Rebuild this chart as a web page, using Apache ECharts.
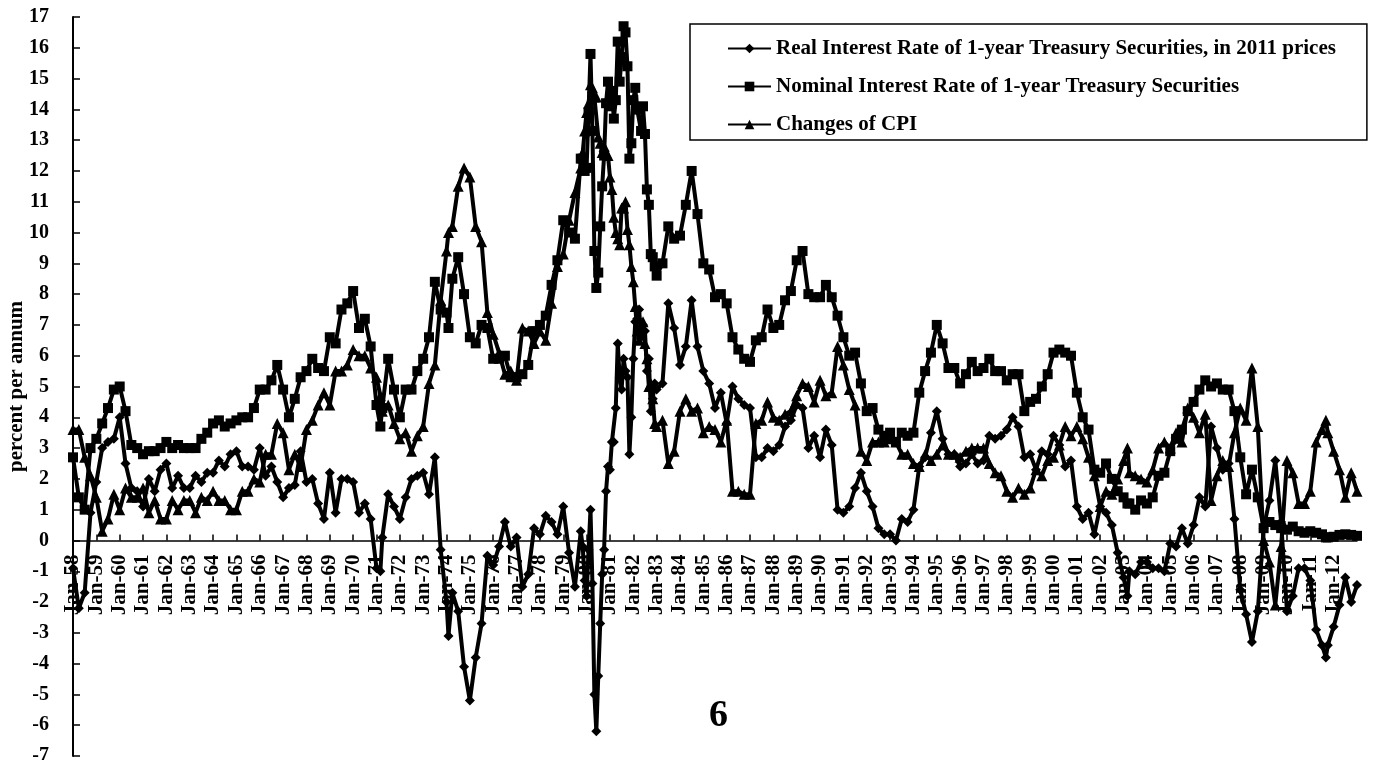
<!DOCTYPE html>
<html>
<head>
<meta charset="utf-8">
<script src="https://cdn.jsdelivr.net/npm/echarts@6/dist/echarts.min.js"></script>
<style>
  html, body { margin: 0; background: #fff; }
  #chart { width: 1373px; height: 760px; }
</style>
</head>
<body>
<div id="chart"></div>
<script>
// sample dates (quarterly, with extra months where the series swing hard)
const dates = [
  '1958-01','1958-04','1958-07','1958-10',
  '1959-01','1959-04','1959-07','1959-10',
  '1960-01','1960-04','1960-07','1960-10',
  '1961-01','1961-04','1961-07','1961-10',
  '1962-01','1962-04','1962-07','1962-10',
  '1963-01','1963-04','1963-07','1963-10',
  '1964-01','1964-04','1964-07','1964-10',
  '1965-01','1965-04','1965-07','1965-10',
  '1966-01','1966-04','1966-07','1966-10',
  '1967-01','1967-04','1967-07','1967-10',
  '1968-01','1968-04','1968-07','1968-10',
  '1969-01','1969-04','1969-07','1969-10',
  '1970-01','1970-04','1970-07','1970-10',
  '1971-01','1971-03','1971-04','1971-07','1971-10',
  '1972-01','1972-04','1972-07','1972-10',
  '1973-01','1973-04','1973-07','1973-10',
  '1974-01','1974-02','1974-04','1974-07','1974-10',
  '1975-01','1975-04','1975-07','1975-10',
  '1976-01','1976-04','1976-07','1976-10',
  '1977-01','1977-04','1977-07','1977-10',
  '1978-01','1978-04','1978-07','1978-10',
  '1979-01','1979-04','1979-07','1979-10','1979-11','1979-12',
  '1980-01','1980-02','1980-03','1980-04','1980-05','1980-06','1980-07','1980-08','1980-09','1980-10','1980-11','1980-12',
  '1981-01','1981-02','1981-03','1981-04','1981-05','1981-06','1981-07','1981-08','1981-09','1981-10','1981-11','1981-12',
  '1982-01','1982-02','1982-03','1982-04','1982-05','1982-06','1982-07','1982-08','1982-09','1982-10','1982-11','1982-12',
  '1983-01','1983-04','1983-07','1983-10',
  '1984-01','1984-04','1984-07','1984-10',
  '1985-01','1985-04','1985-07','1985-10',
  '1986-01','1986-04','1986-07','1986-10',
  '1987-01','1987-04','1987-07','1987-10',
  '1988-01','1988-04','1988-07','1988-10',
  '1989-01','1989-04','1989-07','1989-10',
  '1990-01','1990-04','1990-07','1990-10',
  '1991-01','1991-04','1991-07','1991-10',
  '1992-01','1992-04','1992-07','1992-10',
  '1993-01','1993-04','1993-07','1993-10',
  '1994-01','1994-04','1994-07','1994-10',
  '1995-01','1995-04','1995-07','1995-10',
  '1996-01','1996-04','1996-07','1996-10',
  '1997-01','1997-04','1997-07','1997-10',
  '1998-01','1998-04','1998-07','1998-10',
  '1999-01','1999-04','1999-07','1999-10',
  '2000-01','2000-04','2000-07','2000-10',
  '2001-01','2001-04','2001-07','2001-10',
  '2002-01','2002-04','2002-07','2002-10',
  '2003-01','2003-03','2003-04','2003-07','2003-10',
  '2004-01','2004-04','2004-07','2004-10',
  '2005-01','2005-04','2005-07','2005-10',
  '2006-01','2006-04','2006-07','2006-10',
  '2007-01','2007-04','2007-07','2007-10',
  '2008-01','2008-04','2008-07','2008-10',
  '2009-01','2009-04','2009-07','2009-10',
  '2010-01','2010-04','2010-07','2010-10',
  '2011-01','2011-04','2011-07','2011-09','2011-10',
  '2012-01','2012-04','2012-07','2012-10',
  '2013-01'
];

// nominal interest rate of 1-year treasury securities
const nominal = [
  2.7, 1.4, 1.0, 3.0,
  3.3, 3.8, 4.3, 4.9,
  5.0, 4.2, 3.1, 3.0,
  2.8, 2.9, 2.9, 3.0,
  3.2, 3.0, 3.1, 3.0,
  3.0, 3.0, 3.3, 3.5,
  3.8, 3.9, 3.7, 3.8,
  3.9, 4.0, 4.0, 4.3,
  4.9, 4.9, 5.2, 5.7,
  4.9, 4.0, 4.6, 5.3,
  5.5, 5.9, 5.6, 5.5,
  6.6, 6.4, 7.5, 7.7,
  8.1, 6.9, 7.2, 6.3,
  4.4, 3.7, 4.3, 5.9, 4.9,
  4.0, 4.9, 4.9, 5.5,
  5.9, 6.6, 8.4, 7.5,
  7.4, 6.9, 8.5, 9.2, 8.0,
  6.6, 6.4, 7.0, 6.9,
  5.9, 5.9, 6.0, 5.3,
  5.3, 5.4, 5.7, 6.8,
  7.0, 7.3, 8.3, 9.1,
  10.4, 10.0, 9.8, 12.4, 12.4, 12.0,
  12.1, 13.9, 15.8, 13.3, 9.4, 8.2, 8.7, 10.2, 11.5, 12.5, 14.2, 14.9,
  14.1, 14.6, 13.7, 14.3, 16.2, 14.9, 15.7, 16.7, 16.5, 15.4, 12.4, 12.9,
  14.3, 14.7, 14.0, 14.0, 13.3, 14.1, 13.2, 11.4, 10.9, 9.3, 9.2, 8.9,
  8.6, 9.0, 10.2, 9.8,
  9.9, 10.9, 12.0, 10.6,
  9.0, 8.8, 7.9, 8.0,
  7.7, 6.6, 6.2, 5.9,
  5.8, 6.5, 6.6, 7.5,
  6.9, 7.0, 7.8, 8.1,
  9.1, 9.4, 8.0, 7.9,
  7.9, 8.3, 7.9, 7.3,
  6.6, 6.0, 6.1, 5.1,
  4.2, 4.3, 3.6, 3.4,
  3.5, 3.2, 3.5, 3.4,
  3.5, 4.8, 5.5, 6.1,
  7.0, 6.4, 5.6, 5.6,
  5.1, 5.4, 5.8, 5.5,
  5.6, 5.9, 5.5, 5.5,
  5.2, 5.4, 5.4, 4.2,
  4.5, 4.6, 5.0, 5.4,
  6.1, 6.2, 6.1, 6.0,
  4.8, 4.0, 3.6, 2.3,
  2.2, 2.5, 2.0, 1.6,
  1.4, 1.2, 1.2, 1.0, 1.3,
  1.2, 1.4, 2.1, 2.2,
  2.9, 3.3, 3.6, 4.2,
  4.5, 4.9, 5.2, 5.0,
  5.1, 4.9, 4.9, 4.2,
  2.7, 1.5, 2.3, 1.4,
  0.4, 0.6, 0.5, 0.4,
  0.35, 0.45, 0.3, 0.25,
  0.3, 0.25, 0.2, 0.1, 0.1,
  0.12, 0.18, 0.2, 0.18,
  0.15
];

// changes of CPI (year on year)
const cpi = [
  3.6, 3.6, 2.7, 2.1,
  1.4, 0.3, 0.7, 1.5,
  1.0, 1.7, 1.4, 1.4,
  1.7, 0.9, 1.3, 0.7,
  0.7, 1.3, 1.0, 1.3,
  1.3, 0.9, 1.4, 1.3,
  1.6, 1.3, 1.3, 1.0,
  1.0, 1.6, 1.6, 2.0,
  1.9, 2.8, 2.8, 3.8,
  3.5, 2.3, 2.8, 2.4,
  3.6, 3.9, 4.4, 4.8,
  4.4, 5.5, 5.5, 5.7,
  6.2, 6.0, 6.0, 5.6,
  5.3, 4.7, 4.2, 4.4, 3.8,
  3.3, 3.5, 2.9, 3.4,
  3.7, 5.1, 5.7, 7.8,
  9.4, 10.0, 10.2, 11.5, 12.1,
  11.8, 10.2, 9.7, 7.4,
  6.7, 6.1, 5.4, 5.5,
  5.2, 6.9, 6.8, 6.4,
  6.8, 6.5, 7.7, 8.9,
  9.3, 10.4, 11.3, 12.1, 12.6, 13.3,
  13.9, 14.2, 14.8, 14.7, 14.4, 14.4, 13.1, 12.9, 12.6, 12.8, 12.6, 12.5,
  11.8, 11.4, 10.5, 10.0, 9.8, 9.6, 10.8, 10.8, 11.0, 10.1, 9.6, 8.9,
  8.4, 7.6, 6.8, 6.5, 6.7, 7.1, 6.4, 5.9, 5.0, 5.1, 4.6, 3.8,
  3.7, 3.9, 2.5, 2.9,
  4.2, 4.6, 4.2, 4.3,
  3.5, 3.7, 3.6, 3.2,
  3.9, 1.6, 1.6, 1.5,
  1.5, 3.8, 3.9, 4.5,
  4.0, 3.9, 4.1, 4.2,
  4.7, 5.1, 5.0, 4.5,
  5.2, 4.7, 4.8, 6.3,
  5.7, 4.9, 4.4, 2.9,
  2.6, 3.2, 3.2, 3.2,
  3.3, 3.2, 2.8, 2.8,
  2.5, 2.4, 2.8, 2.6,
  2.8, 3.1, 2.8, 2.8,
  2.7, 2.9, 3.0, 3.0,
  3.0, 2.5, 2.2, 2.1,
  1.6, 1.4, 1.7, 1.5,
  1.7, 2.3, 2.1, 2.6,
  2.7, 3.1, 3.7, 3.4,
  3.7, 3.3, 2.7, 2.1,
  1.1, 1.6, 1.5, 2.0,
  2.6, 3.0, 2.2, 2.1, 2.0,
  1.9, 2.3, 3.0, 3.2,
  3.0, 3.5, 3.2, 4.3,
  4.0, 3.5, 4.1, 1.3,
  2.1, 2.6, 2.4, 3.5,
  4.3, 3.9, 5.6, 3.7,
  0.0, -0.7, -2.1, -0.2,
  2.6, 2.2, 1.2, 1.2,
  1.6, 3.2, 3.6, 3.9, 3.5,
  2.9, 2.3, 1.4, 2.2,
  1.6
];

// real interest rate of 1-year treasury securities, in 2011 prices
const realRate = [
  -0.9, -2.2, -1.7, 0.9,
  1.9, 3.0, 3.2, 3.3,
  4.0, 2.5, 1.7, 1.6,
  1.1, 2.0, 1.6, 2.3,
  2.5, 1.7, 2.1, 1.7,
  1.7, 2.1, 1.9, 2.2,
  2.2, 2.6, 2.4, 2.8,
  2.9, 2.4, 2.4, 2.3,
  3.0, 2.1, 2.4, 1.9,
  1.4, 1.7, 1.8, 2.9,
  1.9, 2.0, 1.2, 0.7,
  2.2, 0.9, 2.0, 2.0,
  1.9, 0.9, 1.2, 0.7,
  -0.9, -1.0, 0.1, 1.5, 1.1,
  0.7, 1.4, 2.0, 2.1,
  2.2, 1.5, 2.7, -0.3,
  -2.0, -3.1, -1.7, -2.3, -4.1,
  -5.2, -3.8, -2.7, -0.5,
  -0.8, -0.2, 0.6, -0.2,
  0.1, -1.5, -1.1, 0.4,
  0.2, 0.8, 0.6, 0.2,
  1.1, -0.4, -1.5, 0.3, -0.2, -1.3,
  -1.8, -0.3, 1.0, -1.4, -5.0, -6.2, -4.4, -2.7, -1.1, -0.3, 1.6, 2.4,
  2.3, 3.2, 3.2, 4.3, 6.4, 5.3, 4.9, 5.9, 5.5, 5.3, 2.8, 4.0,
  5.9, 7.1, 7.2, 7.5, 6.6, 7.0, 6.8, 5.5, 5.9, 4.2, 4.6, 5.1,
  4.9, 5.1, 7.7, 6.9,
  5.7, 6.3, 7.8, 6.3,
  5.5, 5.1, 4.3, 4.8,
  3.8, 5.0, 4.6, 4.4,
  4.3, 2.7, 2.7, 3.0,
  2.9, 3.1, 3.7, 3.9,
  4.4, 4.3, 3.0, 3.4,
  2.7, 3.6, 3.1, 1.0,
  0.9, 1.1, 1.7, 2.2,
  1.6, 1.1, 0.4, 0.2,
  0.2, 0.0, 0.7, 0.6,
  1.0, 2.4, 2.7, 3.5,
  4.2, 3.3, 2.8, 2.8,
  2.4, 2.5, 2.8, 2.5,
  2.6, 3.4, 3.3, 3.4,
  3.6, 4.0, 3.7, 2.7,
  2.8, 2.3, 2.9, 2.8,
  3.4, 3.1, 2.4, 2.6,
  1.1, 0.7, 0.9, 0.2,
  1.1, 0.9, 0.5, -0.4,
  -1.2, -1.8, -1.0, -1.1, -0.7,
  -0.7, -0.9, -0.9, -1.0,
  -0.1, -0.2, 0.4, -0.1,
  0.5, 1.4, 1.1, 3.7,
  3.0, 2.3, 2.5, 0.7,
  -1.6, -2.4, -3.3, -2.3,
  0.4, 1.3, 2.6, 0.6,
  -2.3, -1.8, -0.9, -0.9,
  -1.3, -2.9, -3.4, -3.8, -3.4,
  -2.8, -2.1, -1.2, -2.0,
  -1.45
];

const seriesNames = [
  'Real Interest Rate of 1-year Treasury Securities, in 2011 prices',
  'Nominal Interest Rate of 1-year Treasury Securities',
  'Changes of CPI'
];

const FONT = '"Liberation Serif", "Times New Roman", serif';

const Y_MIN = -7;
const Y_MAX = 17;
const GRID = { left: 73, right: 16, top: 17, bottom: 4 };

// months counted from Jan-58, so the x axis is a plain value axis
function monthIndex(d) {
  const parts = d.split('-');
  return (Number(parts[0]) - 1958) * 12 + Number(parts[1]) - 1;
}

function pairs(values) {
  return dates.map((d, i) => [monthIndex(d), values[i]]);
}

function lineSeries(name, values, symbol, size) {
  return {
    name: name,
    type: 'line',
    data: pairs(values),
    symbol: symbol,
    symbolSize: size,
    showAllSymbol: true,
    color: '#000',
    lineStyle: { color: '#000', width: 4 },
    itemStyle: { color: '#000' },
    emphasis: { disabled: true }
  };
}

const chart = echarts.init(document.getElementById('chart'));

// the category labels hang from the zero line, so lift the x axis up to it
const gridHeight = 760 - GRID.top - GRID.bottom;
const zeroLift = gridHeight * (0 - Y_MIN) / (Y_MAX - Y_MIN);

chart.setOption({
  animation: false,
  backgroundColor: '#fff',
  grid: Object.assign({ outerBoundsMode: 'none', containLabel: false }, GRID),
  legend: {
    orient: 'vertical',
    left: 690,
    top: 24,
    itemGap: 17,
    itemWidth: 43,
    itemHeight: 12,
    padding: [14, 31, 5, 37],
    borderColor: '#000',
    borderWidth: 1.5,
    backgroundColor: '#fff',
    textStyle: { fontFamily: FONT, fontWeight: 'bold', fontSize: 21, color: '#000' },
    data: seriesNames
  },
  xAxis: {
    type: 'value',
    min: 0,
    max: 660,
    interval: 12,
    offset: -zeroLift,
    axisLine: { onZero: false, lineStyle: { color: '#000', width: 1.5 } },
    axisTick: { inside: true, length: 6, lineStyle: { color: '#000', width: 1.5 } },
    splitLine: { show: false },
    axisLabel: {
      rotate: 90,
      margin: 14,
      showMaxLabel: false,
      fontFamily: FONT,
      fontWeight: 'bold',
      fontSize: 21,
      color: '#000',
      formatter: function (v) {
        const yy = (58 + v / 12) % 100;
        return 'Jan-' + (yy < 10 ? '0' : '') + yy;
      }
    }
  },
  yAxis: {
    type: 'value',
    min: Y_MIN,
    max: Y_MAX,
    interval: 1,
    name: 'percent per annum',
    nameLocation: 'middle',
    nameRotate: 90,
    nameGap: 46,
    nameMoveOverlap: false,
    nameTextStyle: { fontFamily: FONT, fontWeight: 'bold', fontSize: 21, color: '#000' },
    axisLine: { show: true, onZero: false, lineStyle: { color: '#000', width: 2 } },
    axisTick: { show: true, inside: true, length: 7, lineStyle: { color: '#000', width: 1.5 } },
    splitLine: { show: false },
    axisLabel: { margin: 24, fontFamily: FONT, fontWeight: 'bold', fontSize: 20, color: '#000' }
  },
  graphic: [
    {
      type: 'text',
      left: 709,
      top: 697,
      style: { text: '6', font: 'bold 38px "Liberation Serif", serif', fill: '#000' }
    }
  ],
  series: [
    lineSeries(seriesNames[0], realRate, 'diamond', 10),
    lineSeries(seriesNames[1], nominal, 'rect', 10),
    lineSeries(seriesNames[2], cpi, 'triangle', 11)
  ]
});
</script>
</body>
</html>
